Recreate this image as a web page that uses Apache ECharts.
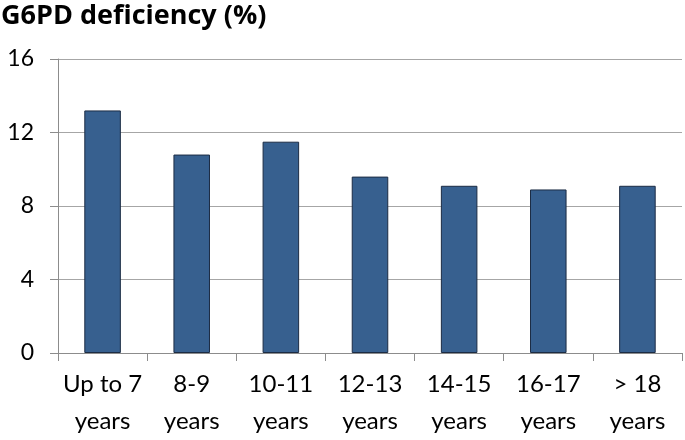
<!DOCTYPE html>
<html><head><meta charset="utf-8">
<script src="https://cdn.jsdelivr.net/npm/echarts@6/dist/echarts.min.js"></script>
<style>html,body{margin:0;padding:0;background:#fff}#c{width:685px;height:440px}</style>
</head><body><div id="c"></div>
<script>
const categories = ["Up to 7\nyears", "8-9\nyears", "10-11\nyears", "12-13\nyears", "14-15\nyears", "16-17\nyears", "> 18\nyears"];
const values = [13.2, 10.8, 11.5, 9.6, 9.1, 8.9, 9.1];
const yTicks = [0, 4, 8, 12, 16];
const titleText = "G6PD deficiency (%)";

const chart = echarts.init(document.getElementById('c'), null, {renderer: 'canvas'});
chart.setOption({
  animation: false,
  title: {text: titleText, left: 0, top: 0, padding: [0,0,0,1],
    textStyle: {fontFamily: 'Open Sans', fontWeight: 'bold', fontSize: 27, lineHeight: 32, color: '#000'}},
  grid: {left: 58, right: 3, top: 59, bottom: 84, containLabel: false},
  xAxis: {type: 'category', data: categories,
    axisLine: {lineStyle: {color: '#8c8c8c', width: 1}},
    axisTick: {show: true, length: 8, lineStyle: {color: '#8c8c8c'}},
    axisLabel: {fontFamily: 'Lato', fontSize: 24, color: '#000', margin: 13, lineHeight: 37, interval: 0}},
  yAxis: {type: 'value', min: yTicks[0], max: yTicks[yTicks.length-1], interval: 4,
    axisLine: {show: true, lineStyle: {color: '#8c8c8c', width: 1}},
    axisTick: {show: true, length: 8, lineStyle: {color: '#8c8c8c'}},
    splitLine: {show: true, lineStyle: {color: '#a6a6a6', width: 1}},
    axisLabel: {fontFamily: 'Lato', fontSize: 23, color: '#000', margin: 24}},
  series: [{type: 'bar', data: values, barWidth: '41%',
    itemStyle: {color: '#37608f', borderColor: '#1c2c44', borderWidth: 1}}]
});
</script></body></html>
